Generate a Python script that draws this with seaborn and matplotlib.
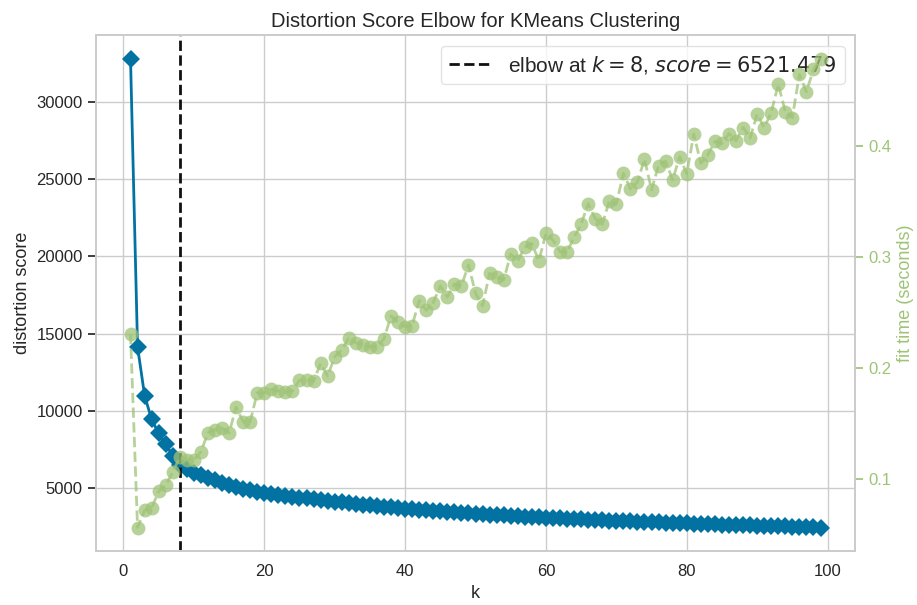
import numpy as np
import pandas as pd
import matplotlib
matplotlib.use("Agg")
import matplotlib.pyplot as plt
import seaborn as sns

k_values = list(range(1, 100))

distortion = [
    32800, 14150, 11000, 9450, 8550, 7850, 7100, 6521.479, 6230, 6010,
    5840, 5690, 5520, 5370, 5190, 5050, 4960, 4870, 4790, 4720,
    4660, 4590, 4530, 4460, 4400, 4340, 4290, 4240, 4180, 4130,
    4080, 4030, 3990, 3940, 3900, 3850, 3810, 3770, 3730, 3690,
    3650, 3620, 3580, 3550, 3510, 3480, 3450, 3420, 3390, 3360,
    3330, 3300, 3270, 3250, 3220, 3190, 3170, 3140, 3110, 3090,
    3070, 3050, 3030, 3010, 2990, 2970, 2950, 2930, 2910, 2890,
    2880, 2860, 2840, 2830, 2810, 2790, 2780, 2760, 2740, 2730,
    2710, 2700, 2680, 2670, 2650, 2640, 2620, 2610, 2600, 2580,
    2570, 2550, 2540, 2530, 2510, 2500, 2490, 2470, 2460,
]

fit_time = [
    0.2304, 0.0561, 0.0716, 0.0737, 0.0886, 0.0940, 0.1060, 0.1194, 0.1173, 0.1167,
    0.1244, 0.1412, 0.1441, 0.1457, 0.1412, 0.1647, 0.1513, 0.1513, 0.1776, 0.1770,
    0.1806, 0.1790, 0.1780, 0.1790, 0.1889, 0.1889, 0.1880, 0.2038, 0.1925, 0.2098,
    0.2158, 0.2268, 0.2224, 0.2209, 0.2188, 0.2188, 0.2260, 0.2465, 0.2410, 0.2370,
    0.2379, 0.2605, 0.2516, 0.2587, 0.2737, 0.2636, 0.2755, 0.2737, 0.2925, 0.2671,
    0.2558, 0.2850, 0.2815, 0.2790, 0.3023, 0.2963, 0.3083, 0.3119, 0.2963, 0.3209,
    0.3149, 0.3044, 0.3044, 0.3173, 0.3292, 0.3477, 0.3343, 0.3292, 0.3500, 0.3471,
    0.3751, 0.3611, 0.3671, 0.3880, 0.3602, 0.3820, 0.3859, 0.3692, 0.3901, 0.3746,
    0.4104, 0.3841, 0.3916, 0.4038, 0.4020, 0.4109, 0.4044, 0.4163, 0.4068, 0.4283,
    0.4163, 0.4297, 0.4552, 0.4306, 0.4252, 0.4641, 0.4485, 0.4686, 0.4784,
]

elbow_k = 8
elbow_score = 6521.479

left_ticks = [5000, 10000, 15000, 20000, 25000, 30000]
right_ticks = [0.1, 0.2, 0.3, 0.4]
x_ticks = [0, 20, 40, 60, 80, 100]

BLUE = "#0272a2"
GREEN = "#9fc377"
LINE = "#111111"

sns.set_theme(style="whitegrid")
plt.rcParams["font.family"] = ["Liberation Sans", "DejaVu Sans"]
plt.rcParams["mathtext.fontset"] = "dejavusans"

df = pd.DataFrame({"k": k_values, "distortion": distortion, "fit": fit_time})

fig = plt.figure(figsize=(9.17, 6.05), dpi=100)
ax = fig.add_axes([0.1047, 0.0893, 0.8277, 0.8527])

sns.lineplot(data=df, x="k", y="distortion", ax=ax, color=BLUE, marker="D",
             markersize=9, markeredgewidth=0, linewidth=2, errorbar=None)
ax.axvline(elbow_k, color=LINE, linestyle="--", linewidth=2,
           label=r"elbow at $k={}$, $score={:0.3f}$".format(elbow_k, elbow_score))

ax2 = ax.twinx()
sns.lineplot(data=df, x="k", y="fit", ax=ax2, color=GREEN, marker="o",
             linestyle="--", alpha=0.75, markersize=10, markeredgewidth=0,
             linewidth=2, errorbar=None)
ax2.grid(False)

ax.set_xticks(x_ticks)
ax.set_yticks(left_ticks)
ax2.set_yticks(right_ticks)
ax2.set_yticklabels([f"{t:.1f}" for t in right_ticks])

ax.set_title("Distortion Score Elbow for KMeans Clustering", fontsize=14.5, color="#262626")
ax.set_xlabel("k", fontsize=13)
ax.set_ylabel("distortion score", fontsize=13)
ax2.set_ylabel("fit time (seconds)", fontsize=13, color=GREEN)
ax.tick_params(axis="both", labelsize=12)
ax2.tick_params(axis="y", labelsize=12, colors=GREEN)

leg = ax.legend(loc="upper right", fontsize=15, frameon=True)
leg.get_frame().set_edgecolor("#dddddd")

for a in (ax, ax2):
    for s in a.spines.values():
        s.set_edgecolor("#cccccc")
        s.set_linewidth(1.25)

fig.savefig("out.png", dpi=100)
